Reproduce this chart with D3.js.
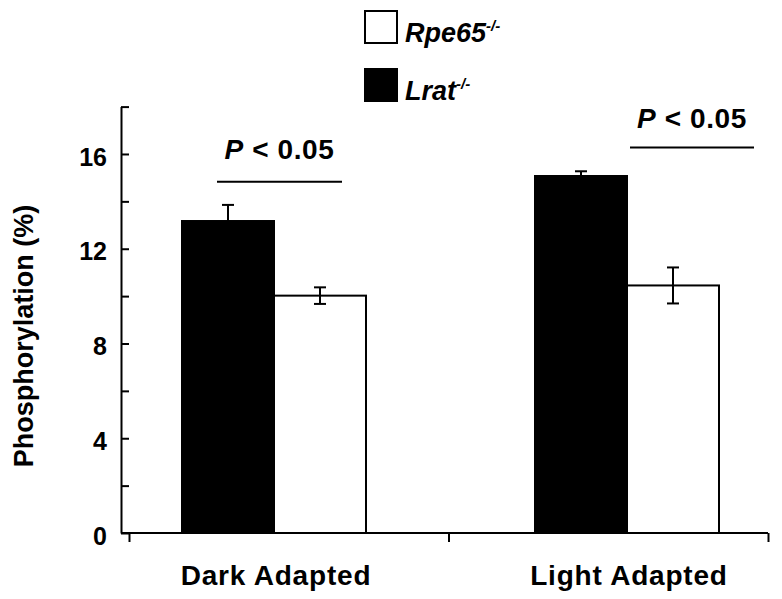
<!DOCTYPE html>
<html>
<head>
<meta charset="utf-8">
<script src="https://cdn.jsdelivr.net/npm/d3@7"></script>
<style>
  body { margin: 0; background: #fff; }
  svg text { font-family: "Liberation Sans", Arial, sans-serif; font-weight: bold; fill: #000; }
</style>
</head>
<body>
<svg id="chart" width="782" height="599"></svg>
<script>
const categories = ["Dark Adapted", "Light Adapted"];
const groups = ["Lrat", "Rpe65"];
const lratValues = [13.17, 15.07];
const lratErrors = [0.68, 0.2];
const rpe65Values = [10.02, 10.45];
const rpe65Errors = [0.35, 0.76];
const yTicks = [0, 2, 4, 6, 8, 10, 12, 14, 16, 18];
const yTickLabels = [0, 4, 8, 12, 16];
const sigLabels = ["< 0.05", "< 0.05"];
const sigLevels = [14.83, 16.27];
const sigTextLevels = [15.8, 17.1];

const svg = d3.select("#chart");

const y = d3.scaleLinear()
  .domain([0, 18])
  .range([533, 106.6]);

// group centres
const x = d3.scalePoint()
  .domain(categories)
  .range([274, 627]);

const xInner = d3.scaleBand()
  .domain(groups)
  .range([-92, 92]);

// ticks on the bottom axis sit between the groups
const xSlots = d3.scaleLinear()
  .domain([0, 2])
  .range([129, 768]);

const data = [];
categories.forEach(function(c, i) {
  data.push({cat: c, group: "Lrat", value: lratValues[i], err: lratErrors[i], both: false});
  data.push({cat: c, group: "Rpe65", value: rpe65Values[i], err: rpe65Errors[i], both: true});
});

// bars
svg.append("g").selectAll("rect")
  .data(data)
  .enter()
  .append("rect")
  .attr("x", d => x(d.cat) + xInner(d.group))
  .attr("y", d => y(d.value))
  .attr("width", xInner.bandwidth())
  .attr("height", d => y(0) - y(d.value))
  .attr("fill", d => d.group == "Lrat" ? "#000" : "#fff")
  .attr("stroke", "#000")
  .attr("stroke-width", 2);

// error bars
const eb = svg.append("g")
  .attr("stroke", "#000")
  .attr("stroke-width", 2);
data.forEach(function(d) {
  const cx = x(d.cat) + xInner(d.group) + xInner.bandwidth() / 2;
  const top = y(d.value + d.err);
  const bottom = d.both ? y(d.value - d.err) : y(d.value);
  eb.append("line").attr("x1", cx).attr("x2", cx).attr("y1", top).attr("y2", bottom);
  eb.append("line").attr("x1", cx - 6).attr("x2", cx + 6).attr("y1", top).attr("y2", top);
  if (d.both) {
    eb.append("line").attr("x1", cx - 6).attr("x2", cx + 6).attr("y1", bottom).attr("y2", bottom);
  }
});

// y axis
const yAxis = d3.axisLeft(y)
  .tickValues(yTicks)
  .tickSize(-8)
  .tickSizeOuter(0)
  .tickPadding(14)
  .tickFormat(d => yTickLabels.includes(d) ? d : "");
const yg = svg.append("g")
  .attr("transform", "translate(121,0)")
  .call(yAxis);
yg.selectAll("path, line").attr("stroke", "#000").attr("stroke-width", 2);
yg.selectAll("text")
  .attr("dy", "0.45em")
  .style("font-size", "25px")
  .style("font-family", "'Liberation Sans', Arial, sans-serif")
  .style("font-weight", "bold");

// x axis
svg.append("line")
  .attr("x1", 121).attr("x2", xSlots(2))
  .attr("y1", y(0)).attr("y2", y(0))
  .attr("stroke", "#000").attr("stroke-width", 2);
const xg = svg.append("g")
  .attr("transform", "translate(0," + y(0) + ")")
  .call(d3.axisBottom(xSlots).tickValues([0, 1, 2]).tickSize(9).tickFormat(""));
xg.select(".domain").remove();
xg.selectAll("line").attr("stroke", "#000").attr("stroke-width", 2);

svg.append("g").selectAll("text")
  .data(categories)
  .enter()
  .append("text")
  .attr("x", d => x(d) + 2)
  .attr("y", 585)
  .attr("text-anchor", "middle")
  .style("font-size", "28px")
  .style("letter-spacing", "0.8px")
  .text(d => d);

// y label
svg.append("text")
  .attr("transform", "translate(33,336) rotate(-90)")
  .attr("text-anchor", "middle")
  .style("font-size", "27px")
  .text("Phosphorylation (%)");

// significance marks
const sigOffsets = [[-57, 68], [3, 127]];
categories.forEach(function(c, i) {
  const x1 = x(c) + sigOffsets[i][0];
  const x2 = x(c) + sigOffsets[i][1];
  svg.append("line")
    .attr("x1", x1).attr("x2", x2)
    .attr("y1", y(sigLevels[i])).attr("y2", y(sigLevels[i]))
    .attr("stroke", "#000").attr("stroke-width", 2);
  const t = svg.append("text")
    .attr("x", (x1 + x2) / 2)
    .attr("y", y(sigTextLevels[i]))
    .attr("text-anchor", "middle")
    .style("font-size", "28px")
    .style("letter-spacing", "0.6px");
  t.append("tspan").style("font-style", "italic").text("P");
  t.append("tspan").text(" " + sigLabels[i]);
});

// legend
const legendItems = [
  {name: "Rpe65", sup: "-/-", fill: "#fff"},
  {name: "Lrat", sup: "-/-", fill: "#000"}
];
const lg = svg.append("g").selectAll("g")
  .data(legendItems)
  .enter()
  .append("g")
  .attr("transform", (d, i) => "translate(365," + (11 + i * 58) + ")");
lg.append("rect")
  .attr("width", 32).attr("height", 32)
  .attr("fill", d => d.fill)
  .attr("stroke", "#000").attr("stroke-width", 2);
const lt = lg.append("text")
  .attr("x", 40)
  .attr("y", 31)
  .style("font-size", "27px")
  .style("font-style", "italic");
lt.append("tspan").text(d => d.name);
lt.append("tspan")
  .attr("dy", -11)
  .style("font-size", "15px")
  .text(d => d.sup);
</script>
</body>
</html>
